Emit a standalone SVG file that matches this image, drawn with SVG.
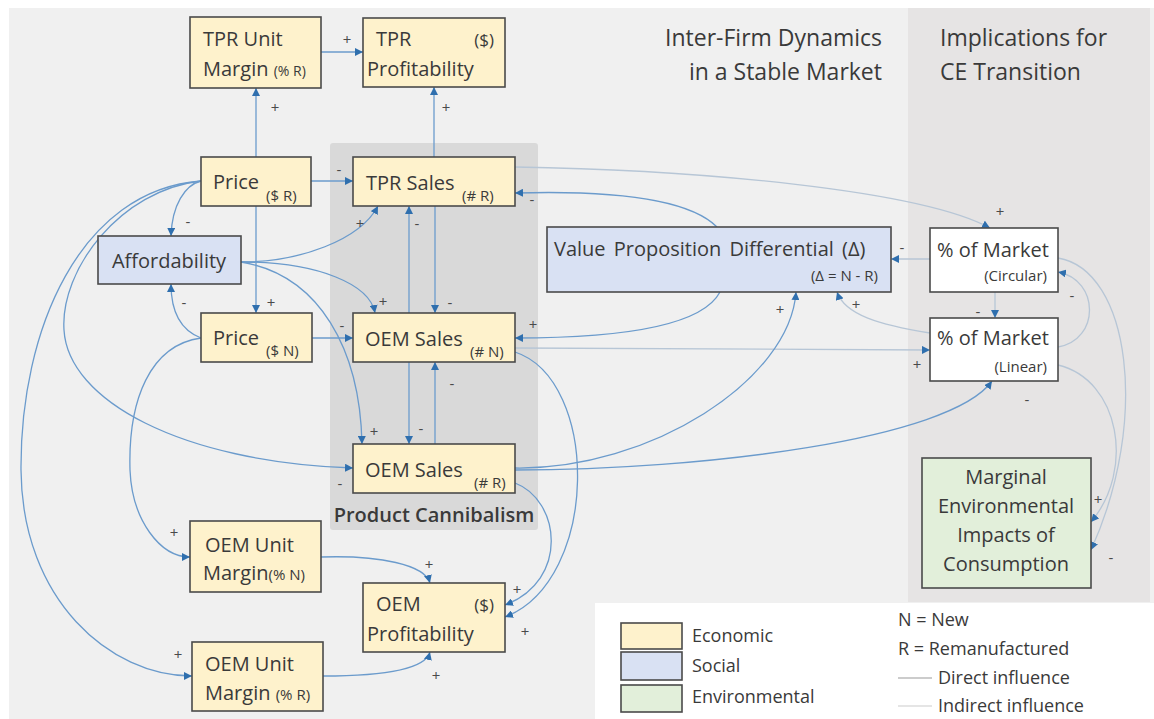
<svg xmlns="http://www.w3.org/2000/svg" width="1154" height="719" viewBox="0 0 1154 719">
<defs>
<style>
.t{font-family:"Open Sans","Noto Sans","DejaVu Sans",sans-serif;fill:#3a3a3a}
.n{font-size:20px}
.s{font-size:14px}
.h{font-size:23px}
.lg{font-size:18px}
.p{font-size:15px;fill:#4a4a4a;text-anchor:middle}
.eco{fill:#fef2cc;stroke:#4a4a4a;stroke-width:1.6}
.soc{fill:#d9e1f3;stroke:#4a4a4a;stroke-width:1.6}
.env{fill:#e2efda;stroke:#4a4a4a;stroke-width:1.6}
.wht{fill:#ffffff;stroke:#4a4a4a;stroke-width:1.6}
.d{fill:none;stroke:#6b9bcc;stroke-width:1.3;marker-end:url(#ah)}
.i{fill:none;stroke:#b7c6d6;stroke-width:1.3;marker-end:url(#ah)}
</style>
<marker id="ah" markerUnits="userSpaceOnUse" markerWidth="9" markerHeight="8" refX="8" refY="4" orient="auto">
<path d="M0,0 L8,4 L0,8 z" fill="#2f6fae"/>
</marker>
</defs>
<rect x="0" y="0" width="1154" height="719" fill="#ffffff"/>
<rect x="9" y="8" width="1145" height="711" fill="#f0f0f0"/>
<rect x="908" y="8" width="242" height="594" fill="#e6e4e4"/>
<rect x="595" y="603" width="559" height="116" fill="#ffffff"/>
<rect x="330" y="143" width="208" height="387" rx="3" fill="#d9d9d9"/>
<text class="t" x="434" y="522" text-anchor="middle" font-size="20" font-weight="600">Product Cannibalism</text>
<text class="t h" x="882" y="46" text-anchor="end">Inter-Firm Dynamics</text>
<text class="t h" x="882" y="80" text-anchor="end">in a Stable Market</text>
<text class="t h" x="940" y="46">Implications for</text>
<text class="t h" x="940" y="80">CE Transition</text>

<g id="connectors">
<path class="d" d="M321,52 L363,52"/>
<path class="d" d="M256,157 L256,88"/>
<path class="d" d="M434,157 L434,87"/>
<path class="d" d="M311,181 L353,181"/>
<path class="d" d="M201,181 C185,185 172,205 171,236"/>
<path class="d" d="M256,206 L256,313"/>
<path class="d" d="M201,338 C180,330 171,310 171,284"/>
<path class="d" d="M312,338 L353,338"/>
<path class="d" d="M241,262 C300,262 360,240 378,206"/>
<path class="d" d="M241,262 C320,262 370,285 375,313"/>
<path class="d" d="M241,262 C320,275 360,350 362,444"/>
<path class="d" d="M409,313 L409,206"/>
<path class="d" d="M435,206 L435,313"/>
<path class="d" d="M409,362 L409,444"/>
<path class="d" d="M435,444 L435,362"/>
<path class="d" d="M201,181 C120,190 60,270 64,330 C68,400 180,462 353,468"/>
<path class="d" d="M201,181 C80,190 20,330 21,470 C22,600 110,676 192,676"/>
<path class="d" d="M201,338 C150,345 128,400 130,470 C132,520 160,557 190,557"/>
<path class="d" d="M717,227 C690,200 620,190 515,193"/>
<path class="i" d="M515,167 C700,170 920,190 990,228"/>
<path class="d" d="M720,292 C700,330 600,338 515,338"/>
<path class="i" d="M515,348 L930,350"/>
<path class="d" d="M515,468 C650,470 790,380 796,292"/>
<path class="d" d="M515,470 C700,470 950,440 992,381"/>
<path class="i" d="M930,333 C880,325 845,315 837,292"/>
<path class="i" d="M930,259 L891,259"/>
<path class="i" d="M995,292 L995,318"/>
<path class="i" d="M1058,347 C1100,340 1100,280 1058,272"/>
<path class="i" d="M1058,365 C1120,380 1135,470 1091,522"/>
<path class="i" d="M1058,258 C1130,270 1150,420 1091,550"/>
<path class="d" d="M515,352 C600,380 600,580 505,617"/>
<path class="d" d="M515,483 C560,500 570,580 505,605"/>
<path class="d" d="M321,557 C380,555 425,565 430,583"/>
<path class="d" d="M323,676 C380,676 425,670 430,652"/>
</g>

<g id="polarities">
<text class="t p" x="347" y="45">+</text>
<text class="t p" x="275" y="113">+</text>
<text class="t p" x="446" y="113">+</text>
<text class="t p" x="339" y="175">-</text>
<text class="t p" x="188" y="227">-</text>
<text class="t p" x="271" y="308">+</text>
<text class="t p" x="184" y="308">-</text>
<text class="t p" x="342" y="331">-</text>
<text class="t p" x="360" y="229">+</text>
<text class="t p" x="383" y="307">+</text>
<text class="t p" x="374" y="437">+</text>
<text class="t p" x="417" y="229">-</text>
<text class="t p" x="450" y="308">-</text>
<text class="t p" x="421" y="434">-</text>
<text class="t p" x="452" y="389">-</text>
<text class="t p" x="340" y="489">-</text>
<text class="t p" x="178" y="660">+</text>
<text class="t p" x="174" y="538">+</text>
<text class="t p" x="532" y="205">-</text>
<text class="t p" x="1000" y="217">+</text>
<text class="t p" x="533" y="330">+</text>
<text class="t p" x="917" y="370">+</text>
<text class="t p" x="780" y="315">+</text>
<text class="t p" x="1027" y="405">-</text>
<text class="t p" x="856" y="310">+</text>
<text class="t p" x="902" y="253">-</text>
<text class="t p" x="978" y="317">-</text>
<text class="t p" x="1072" y="301">-</text>
<text class="t p" x="1098" y="505">+</text>
<text class="t p" x="1111" y="563">-</text>
<text class="t p" x="525" y="637">+</text>
<text class="t p" x="517" y="595">+</text>
<text class="t p" x="429" y="570">+</text>
<text class="t p" x="436" y="681">+</text>
</g>

<g id="tpr-unit-margin">
<rect class="eco" x="190" y="17" width="131" height="71"/>
<text class="t n" x="203" y="46">TPR Unit</text>
<text class="t n" x="203" y="76">Margin <tspan class="s">(% R)</tspan></text>
</g>
<g id="tpr-profitability">
<rect class="eco" x="363" y="18" width="142" height="69"/>
<text class="t n" x="376" y="46">TPR</text>
<text class="t" x="494" y="46" font-size="17" text-anchor="end">($)</text>
<text class="t n" x="367" y="76">Profitability</text>
</g>
<g id="price-r">
<rect class="eco" x="201" y="157" width="110" height="49"/>
<text class="t n" x="213" y="189">Price</text>
<text class="t" x="266" y="201" font-size="15">($ R)</text>
</g>
<g id="affordability">
<rect class="soc" x="98" y="236" width="143" height="48"/>
<text class="t n" x="169" y="268" text-anchor="middle">Affordability</text>
</g>
<g id="price-n">
<rect class="eco" x="201" y="313" width="111" height="49"/>
<text class="t n" x="213" y="345">Price</text>
<text class="t" x="266" y="356" font-size="15">($ N)</text>
</g>
<g id="tpr-sales">
<rect class="eco" x="353" y="157" width="162" height="49"/>
<text class="t n" x="366" y="190">TPR Sales</text>
<text class="t" x="462" y="201" font-size="15">(# R)</text>
</g>
<g id="oem-sales-n">
<rect class="eco" x="353" y="313" width="162" height="49"/>
<text class="t n" x="365" y="346">OEM Sales</text>
<text class="t" x="470" y="357" font-size="15">(# N)</text>
</g>
<g id="oem-sales-r">
<rect class="eco" x="353" y="444" width="162" height="49"/>
<text class="t n" x="365" y="477">OEM Sales</text>
<text class="t" x="474" y="488" font-size="15">(# R)</text>
</g>
<g id="value-proposition-differential">
<rect class="soc" x="547" y="227" width="344" height="65"/>
<text class="t n" x="554" y="256" word-spacing="3">Value Proposition Differential (Δ)</text>
<text class="t" x="878" y="281" font-size="15" text-anchor="end">(Δ = N - R)</text>
</g>
<g id="market-circular">
<rect class="wht" x="930" y="228" width="128" height="64"/>
<text class="t n" x="937" y="257">% of Market</text>
<text class="t" x="1047" y="281" font-size="15" text-anchor="end">(Circular)</text>
</g>
<g id="market-linear">
<rect class="wht" x="930" y="318" width="128" height="63"/>
<text class="t n" x="937" y="345">% of Market</text>
<text class="t" x="1047" y="372" font-size="15" text-anchor="end">(Linear)</text>
</g>
<g id="environmental-impacts">
<rect class="env" x="922" y="458" width="169" height="130"/>
<text class="t n" x="1006" y="484" text-anchor="middle">Marginal</text>
<text class="t n" x="1006" y="513" text-anchor="middle">Environmental</text>
<text class="t n" x="1006" y="542" text-anchor="middle">Impacts of</text>
<text class="t n" x="1006" y="571" text-anchor="middle">Consumption</text>
</g>
<g id="oem-unit-margin-n">
<rect class="eco" x="190" y="521" width="131" height="71"/>
<text class="t n" x="205" y="552">OEM Unit</text>
<text class="t n" x="203" y="580">Margin<tspan font-size="15">(% N)</tspan></text>
</g>
<g id="oem-profitability">
<rect class="eco" x="363" y="583" width="142" height="69"/>
<text class="t n" x="376" y="611">OEM</text>
<text class="t" x="494" y="611" font-size="17" text-anchor="end">($)</text>
<text class="t n" x="367" y="641">Profitability</text>
</g>
<g id="oem-unit-margin-r">
<rect class="eco" x="192" y="642" width="131" height="69"/>
<text class="t n" x="205" y="671">OEM Unit</text>
<text class="t n" x="205" y="700">Margin <tspan font-size="15">(% R)</tspan></text>
</g>

<g id="legend">
<rect class="eco" x="621" y="623" width="61" height="26"/>
<rect class="soc" x="621" y="652" width="61" height="28"/>
<rect class="env" x="621" y="685" width="61" height="27"/>
<text class="t lg" x="692" y="642">Economic</text>
<text class="t lg" x="692" y="672">Social</text>
<text class="t lg" x="692" y="703">Environmental</text>
<text class="t lg" x="898" y="626">N = New</text>
<text class="t lg" x="898" y="655">R = Remanufactured</text>
<line x1="898" y1="678" x2="932" y2="678" stroke="#999999" stroke-width="1.2"/>
<text class="t lg" x="938" y="684">Direct influence</text>
<line x1="898" y1="706" x2="932" y2="706" stroke="#cccccc" stroke-width="1.2"/>
<text class="t lg" x="938" y="712">Indirect influence</text>
</g>
</svg>
